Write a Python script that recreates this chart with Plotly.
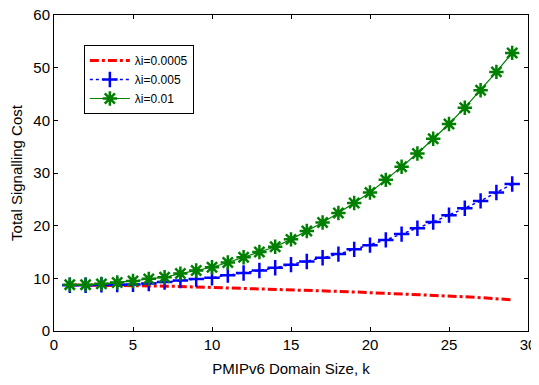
import plotly.graph_objects as go

k = list(range(1, 30))
red_vals = [8.75, 8.73, 8.71, 8.68, 8.64, 8.58, 8.52, 8.45, 8.37, 8.28, 8.19, 8.10, 8.01, 7.92,
            7.83, 7.73, 7.63, 7.52, 7.41, 7.30, 7.18, 7.06, 6.93, 6.80, 6.66, 6.50, 6.33, 6.14, 5.92]
blue_vals = [8.7, 8.7, 8.75, 8.8, 8.85, 9.0, 9.3, 9.6, 9.85, 10.1, 10.6, 11.0, 11.5, 12.0,
             12.6, 13.2, 13.9, 14.6, 15.5, 16.3, 17.3, 18.4, 19.5, 20.7, 22.0, 23.3, 24.7, 26.3, 27.9]
green_vals = [8.8, 8.8, 8.95, 9.2, 9.5, 9.9, 10.2, 10.9, 11.5, 12.1, 13.0, 14.0, 15.0, 16.0,
              17.4, 19.0, 20.6, 22.4, 24.3, 26.3, 28.7, 31.2, 33.7, 36.5, 39.3, 42.4, 45.7, 49.2, 52.8]
names = ["λi=0.0005", "λi=0.005", "λi=0.01"]
x_ticks = [0, 5, 10, 15, 20, 25, 30]
y_ticks = [0, 10, 20, 30, 40, 50, 60]

FONT = "Arial, Liberation Sans, sans-serif"

fig = go.Figure()
fig.add_trace(go.Scatter(x=k, y=red_vals, name=names[0], mode="lines",
                         line=dict(color="#ff0000", width=3, dash="dashdot")))
fig.add_trace(go.Scatter(x=k, y=blue_vals, name=names[1], mode="lines+markers",
                         line=dict(color="#0000ff", width=1.5, dash="dot"),
                         marker=dict(symbol="cross-thin-open", size=11,
                                     line=dict(color="#0000ff", width=2.5))))
fig.add_trace(go.Scatter(x=k, y=green_vals, name=names[2], mode="lines+markers",
                         line=dict(color="#008000", width=1.2),
                         marker=dict(symbol="asterisk-open", size=12,
                                     line=dict(color="#008000", width=2.5))))

axis_common = dict(showline=True, linecolor="black", linewidth=1, mirror="ticks",
                   ticks="inside", ticklen=4, tickcolor="black", showgrid=False,
                   zeroline=False, automargin=False, ticklabeloverflow="allow",
                   tickfont=dict(family=FONT, size=15, color="black"))
fig.update_xaxes(range=[0, 30], tickvals=x_ticks, **axis_common,
                 title=dict(text="PMIPv6 Domain Size, k", standoff=11,
                            font=dict(family=FONT, size=15, color="black")))
fig.update_yaxes(range=[0, 60], tickvals=y_ticks, **axis_common,
                 title=dict(text="Total Signalling Cost", standoff=7,
                            font=dict(family=FONT, size=15, color="black")))
# page body has an 8px margin, so the figure is shrunk by 8px to fit the window
fig.update_layout(
    width=531, height=377,
    margin=dict(l=46, r=11, t=7, b=54),
    plot_bgcolor="white", paper_bgcolor="white",
    font=dict(family=FONT, color="black"),
    legend=dict(x=0.063, y=0.905, xanchor="left", yanchor="top",
                bgcolor="white", bordercolor="black", borderwidth=1,
                font=dict(family=FONT, size=12, color="black"),
                tracegroupgap=0, itemwidth=40),
)
fig.write_html("out.html")
